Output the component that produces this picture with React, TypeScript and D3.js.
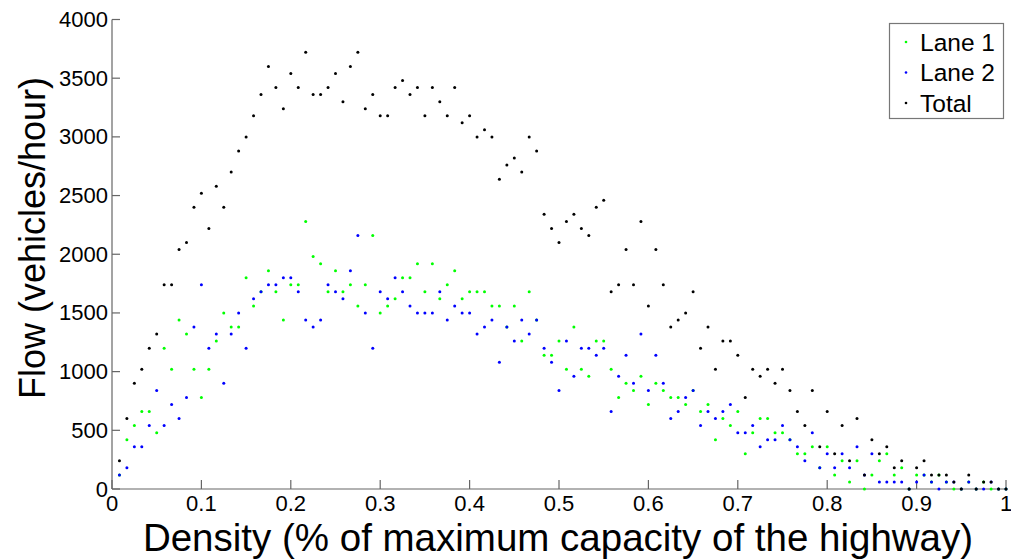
import React from "react";
import * as d3 from "d3";

// flow readings (vehicles/hour), one per density step of 1/120
const lane1 = [
  120, 420, 540, 660, 660, 480, 1200, 1020, 1440, 1320,
  1020, 780, 1020, 1260, 1500, 1380, 1380, 1800, 1560, 1680,
  1860, 1680, 1440, 1740, 1740, 2280, 1980, 1920, 1680, 1860,
  1680, 1740, 1560, 1740, 2160, 1500, 1560, 1620, 1800, 1800,
  1920, 1680, 1920, 1620, 1740, 1860, 1620, 1680, 1680, 1680,
  1560, 1560, 1380, 1560, 1260, 1680, 1440, 1140, 1140, 1260,
  1020, 1380, 1020, 960, 1260, 1260, 1020, 780, 900, 840,
  960, 720, 900, 840, 780, 780, 720, 840, 660, 720,
  420, 600, 540, 660, 300, 480, 600, 600, 480, 480,
  420, 300, 300, 360, 180, 360, 120, 240, 60, 240,
  0, 120, 240, 300, 120, 180, 0, 120, 120, 60,
  120, 60, 0, 0, 60, 0, 60, 0, 0, 0,
];

const lane2 = [
  120, 180, 360, 360, 540, 840, 540, 720, 600, 780,
  1380, 1740, 1200, 1320, 900, 1320, 1500, 1200, 1620, 1680,
  1740, 1740, 1800, 1800, 1680, 1440, 1380, 1440, 1740, 1680,
  1620, 1860, 2160, 1500, 1200, 1680, 1620, 1800, 1680, 1560,
  1500, 1500, 1500, 1680, 1440, 1560, 1500, 1500, 1320, 1380,
  1440, 1080, 1380, 1260, 1440, 1320, 1440, 1200, 1080, 840,
  1260, 960, 1200, 1200, 1140, 1200, 660, 960, 1140, 900,
  1320, 840, 1140, 900, 600, 660, 780, 840, 540, 660,
  600, 660, 720, 480, 480, 540, 360, 420, 420, 540,
  420, 360, 240, 480, 180, 300, 180, 300, 180, 360,
  120, 300, 60, 60, 60, 60, 0, 60, 120, 60,
  0, 60, 60, 0, 60, 0, 0, 60, 0, 0,
];

const total = [
  240, 600, 900, 1020, 1200, 1320, 1740, 1740, 2040, 2100,
  2400, 2520, 2220, 2580, 2400, 2700, 2880, 3000, 3180, 3360,
  3600, 3420, 3240, 3540, 3420, 3720, 3360, 3360, 3420, 3540,
  3300, 3600, 3720, 3240, 3360, 3180, 3180, 3420, 3480, 3360,
  3420, 3180, 3420, 3300, 3180, 3420, 3120, 3180, 3000, 3060,
  3000, 2640, 2760, 2820, 2700, 3000, 2880, 2340, 2220, 2100,
  2280, 2340, 2220, 2160, 2400, 2460, 1680, 1740, 2040, 1740,
  2280, 1560, 2040, 1740, 1380, 1440, 1500, 1680, 1200, 1380,
  1020, 1260, 1260, 1140, 780, 1020, 960, 1020, 900, 1020,
  840, 660, 540, 840, 360, 660, 300, 540, 240, 600,
  120, 420, 300, 360, 180, 240, 0, 180, 240, 120,
  120, 120, 60, 0, 120, 0, 60, 60, 0, 0,
];

const density = total.map((_, i) => (i + 1) / 120);

const series = [
  { name: "Lane 1", color: "#00ff00", values: lane1 },
  { name: "Lane 2", color: "#0000ff", values: lane2 },
  { name: "Total", color: "#000000", values: total },
];

const xTicks = [0, 0.1, 0.2, 0.3, 0.4, 0.5, 0.6, 0.7, 0.8, 0.9, 1];
const yTicks = [0, 500, 1000, 1500, 2000, 2500, 3000, 3500, 4000];

const W = 1011;
const H = 560;
const left = 112;
const right = 1006;
const top = 19.5;
const bottom = 489;
const font = "Arial, 'Liberation Sans', sans-serif";
const axisColor = "#666666";

export default function App() {
  const x = d3.scaleLinear().domain([0, 1]).range([left, right]);
  const y = d3.scaleLinear().domain([0, 4000]).range([bottom, top]);

  return (
    <div style={{ position: "fixed", left: 0, top: 0, background: "#fff" }}>
      <svg width={W} height={H} style={{ display: "block" }}>
        <rect width={W} height={H} fill="#fff" />

        {/* axes (box off, ticks inward) */}
        <line x1={left} x2={left} y1={bottom} y2={top} stroke={axisColor} strokeWidth={1.2} />
        <line x1={left} x2={right} y1={bottom} y2={bottom} stroke={axisColor} strokeWidth={1.2} />
        {yTicks.map((t) => (
          <g key={"y" + t}>
            <line x1={left} x2={left + 8} y1={y(t)} y2={y(t)} stroke={axisColor} strokeWidth={1.2} />
            <text
              x={left - 4}
              y={y(t) + 7.5}
              textAnchor="end"
              fontFamily={font}
              fontSize={22}
              fill="#000"
            >
              {t}
            </text>
          </g>
        ))}
        {xTicks.map((t) => (
          <g key={"x" + t}>
            <line x1={x(t)} x2={x(t)} y1={bottom} y2={bottom - 9} stroke={axisColor} strokeWidth={1.2} />
            <text
              x={x(t)}
              y={bottom + 22}
              textAnchor="middle"
              fontFamily={font}
              fontSize={22}
              fill="#000"
            >
              {t}
            </text>
          </g>
        ))}

        {/* points */}
        {series.map((s) => (
          <g key={s.name}>
            {s.values.map((v, i) => (
              <circle key={i} cx={x(density[i])} cy={y(v)} r={1.5} fill={s.color} />
            ))}
          </g>
        ))}

        {/* axis titles */}
        <text
          x={558}
          y={551}
          textAnchor="middle"
          fontFamily={font}
          fontSize={38.5}
          fill="#000"
        >
          Density (% of maximum capacity of the highway)
        </text>
        <text
          transform="translate(45,238) rotate(-90)"
          textAnchor="middle"
          fontFamily={font}
          fontSize={36}
          fill="#000"
        >
          Flow (vehicles/hour)
        </text>

        {/* legend */}
        <g>
          <rect x={889.5} y={23.5} width={114} height={95} fill="#fff" stroke="#777" strokeWidth={1.2} />
          {series.map((s, i) => (
            <g key={s.name} transform={`translate(0,${42 + i * 30.5})`}>
              <circle cx={906} cy={0} r={1.3} fill={s.color} />
              <text x={920} y={8.5} fontFamily={font} fontSize={24.5} fill="#000">
                {s.name}
              </text>
            </g>
          ))}
        </g>
      </svg>
    </div>
  );
}
